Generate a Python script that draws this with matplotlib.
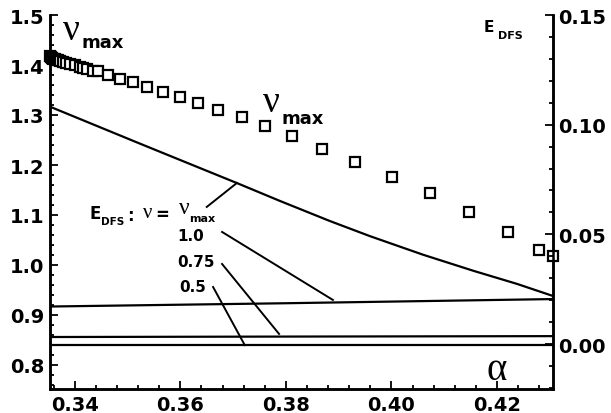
import matplotlib.pyplot as plt
from matplotlib.ticker import MultipleLocator

plt.rcParams['font.family'] = ['DejaVu Sans']

# nu_max vs alpha (squares, left axis)
alpha_sq = [0.3353, 0.3355, 0.3357, 0.3359, 0.3362, 0.3365, 0.3368, 0.3372,
            0.3377, 0.3384, 0.3391, 0.3400, 0.3409, 0.3416, 0.3423,
            0.3434, 0.3444, 0.3463, 0.3485, 0.3510, 0.3537, 0.3567, 0.3599,
            0.3633, 0.3671, 0.3717, 0.3760, 0.3811, 0.3868, 0.3931, 0.4001,
            0.4073, 0.4147, 0.4221, 0.4280, 0.4306]
nu_max = [1.418, 1.416, 1.415, 1.413, 1.412, 1.411, 1.410, 1.409,
          1.407, 1.405, 1.403, 1.400, 1.397, 1.394, 1.392,
          1.389, 1.388, 1.380, 1.372, 1.366, 1.356, 1.346, 1.336,
          1.324, 1.310, 1.296, 1.278, 1.258, 1.232, 1.206, 1.176,
          1.144, 1.106, 1.066, 1.030, 1.018]

# E_DFS curves (right axis)
alpha_vmax = [0.3353, 0.3523, 0.3618, 0.3707, 0.3789, 0.3883, 0.3959,
              0.4016, 0.4060, 0.4155, 0.4238, 0.4306]
e_vmax = [0.1082, 0.0914, 0.0821, 0.0734, 0.0652, 0.0561, 0.0492,
          0.0444, 0.0407, 0.0334, 0.0274, 0.0219]
alpha_flat = [0.3353, 0.3800, 0.4306]
e_nu10 = [0.0171, 0.0186, 0.0205]
e_nu075 = [0.0032, 0.0034, 0.0036]
e_nu05 = [-0.0003, -0.0003, -0.0003]

fig = plt.figure(figsize=(6.11, 4.14), dpi=100)
ax = fig.add_axes([50 / 611, 24 / 414, 503 / 611, 374 / 414])
ax2 = ax.twinx()

ax.plot(alpha_sq, nu_max, 's', ms=6.5, mfc='white', mec='black', mew=1.6,
        clip_on=False, zorder=3)

lw = 1.6
ax2.plot(alpha_vmax, e_vmax, color='black', lw=lw)
ax2.plot(alpha_flat, e_nu10, color='black', lw=lw)
ax2.plot(alpha_flat, e_nu075, color='black', lw=lw)
ax2.plot(alpha_flat, e_nu05, color='black', lw=lw)

ax.set_xlim(0.3353, 0.4306)
ax.set_ylim(0.752, 1.5)
ax2.set_ylim(-0.0205, 0.15)

for a in (ax, ax2):
    a.spines['top'].set_visible(False)
    for s in ('left', 'right', 'bottom'):
        a.spines[s].set_linewidth(1.8)
    a.tick_params(which='both', direction='in', width=1.3, labelsize=14)
    a.tick_params(which='major', length=6, pad=4)
    a.tick_params(which='minor', length=3)

ax.xaxis.set_minor_locator(MultipleLocator(0.004))
ax.yaxis.set_minor_locator(MultipleLocator(0.02))
ax2.yaxis.set_minor_locator(MultipleLocator(0.01))
ax.set_xticks([0.34, 0.36, 0.38, 0.40, 0.42])
ax.set_xticklabels(['0.34', '0.36', '0.38', '0.40', '0.42'], fontweight='bold')
ax.set_yticks([0.8, 0.9, 1.0, 1.1, 1.2, 1.3, 1.4, 1.5])
ax.set_yticklabels(['0.8', '0.9', '1.0', '1.1', '1.2', '1.3', '1.4', '1.5'],
                   fontweight='bold')
ax2.set_yticks([0.0, 0.05, 0.10, 0.15])
ax2.set_yticklabels(['0.00', '0.05', '0.10', '0.15'], fontweight='bold')

serif = ['Liberation Serif', 'DejaVu Serif']

# nu_max labels
ax.text(0.3394, 1.470, 'ν', family=serif, fontsize=27, ha='center', va='center')
ax.text(0.3412, 1.446, 'max', fontsize=13, fontweight='bold', ha='left', va='center')
ax.text(0.3772, 1.326, 'ν', family=serif, fontsize=27, ha='center', va='center')
ax.text(0.3792, 1.294, 'max', fontsize=13, fontweight='bold', ha='left', va='center')

# E_DFS axis title
ax2.text(0.4185, 0.1446, 'E', fontsize=11, fontweight='bold', ha='center', va='center')
ax2.text(0.4201, 0.1409, 'DFS', fontsize=8, fontweight='bold', ha='left', va='center')

# alpha label
ax.text(0.4200, 0.790, 'α', family=serif, fontsize=28, ha='center', va='center')

# legend-like labels
ax2.text(0.3438, 0.0597, 'E', fontsize=12, fontweight='bold', ha='center', va='center')
ax2.text(0.3450, 0.0563, 'DFS', fontsize=7.5, fontweight='bold', ha='left', va='center')
ax2.text(0.3500, 0.0590, ':', fontsize=12, fontweight='bold', ha='left', va='center')
ax2.text(0.3529, 0.0600, 'ν', family=serif, fontsize=15, ha='left', va='center')
ax2.text(0.3553, 0.0593, '=', fontsize=12, fontweight='bold', ha='left', va='center')
ax2.text(0.3607, 0.0622, 'ν', family=serif, fontsize=17, ha='center', va='center')
ax2.text(0.3617, 0.0575, 'max', fontsize=8, fontweight='bold', ha='left', va='center')
ax2.text(0.3620, 0.0497, '1.0', fontsize=11, fontweight='bold', ha='center', va='center')
ax2.text(0.3629, 0.0378, '0.75', fontsize=11, fontweight='bold', ha='center', va='center')
ax2.text(0.3624, 0.0260, '0.5', fontsize=11, fontweight='bold', ha='center', va='center')

# leader lines
leaders = [((0.3650, 0.0625), (0.3707, 0.0734)),
           ((0.3679, 0.0511), (0.3889, 0.0201)),
           ((0.3679, 0.0365), (0.3787, 0.0046)),
           ((0.3662, 0.0260), (0.3722, -0.0005))]
for (x0, y0), (x1, y1) in leaders:
    ax2.plot([x0, x1], [y0, y1], color='black', lw=1.4)

fig.savefig('out.png', dpi=100)
